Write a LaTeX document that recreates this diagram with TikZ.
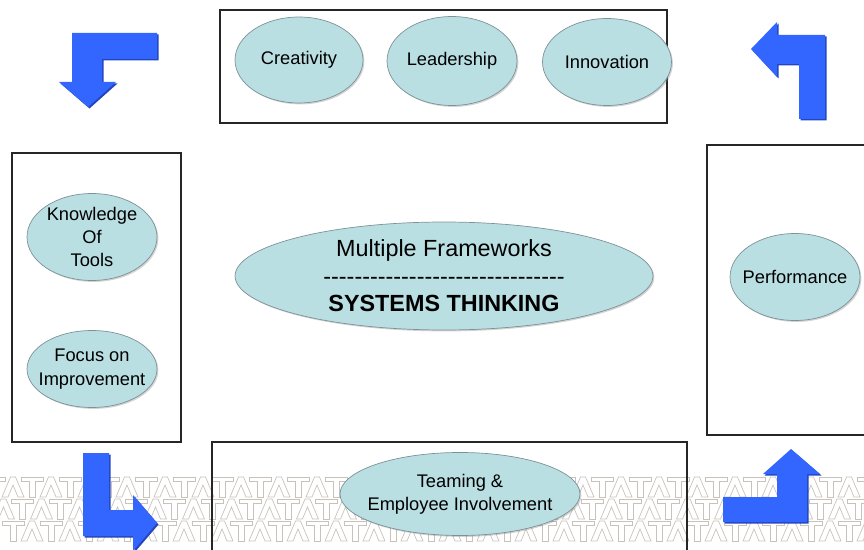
\documentclass[tikz,border=0pt]{standalone}
\usepackage{fontspec}
\setmainfont{Liberation Sans}
\usepackage{tikz}
\usetikzlibrary{shapes.geometric, shadows}

\definecolor{bubblefill}{RGB}{186,223,227}
\definecolor{bubbleedge}{RGB}{125,145,150}
\definecolor{arrowblue}{RGB}{51,102,255}
\definecolor{arrowdark}{RGB}{35,70,190}
\definecolor{logogray}{RGB}{200,194,186}

\tikzset{
  bubble/.style={ellipse, fill=bubblefill, draw=bubbleedge, line width=0.4pt,
    align=center, inner xsep=-12pt, inner ysep=-5pt, font=\fontsize{10.4}{13}\selectfont,
    drop shadow={shadow xshift=0.8pt, shadow yshift=-0.8pt, opacity=0.35}},
  frame/.style={draw=black!85, line width=1.2pt},
  logo/.style={draw=logogray, line width=0.4pt}
}

\newcommand\bentarrow[1]{\fill[arrowdark, shift={(1.5,1.5)}] #1; \fill[arrowblue] #1;}
\newcommand\dashline{\hbox to 4.94cm{\cleaders\hbox{-}\hfill}}

\begin{document}
\begin{tikzpicture}[x=0.02cm, y=-0.02cm]
\useasboundingbox (0,0) rectangle (864,550);

% TATA band along the bottom
\foreach \r in {0,1,2}
  \foreach \k in {0,...,46}{
    \pgfmathsetmacro{\cx}{\k*19+\r*9.5-6}
    \pgfmathsetmacro{\ty}{477+\r*22}
    \pgfmathtruncatemacro{\flip}{mod(\k+\r,2)}
    \ifnum\flip=0
      \draw[logo, shift={(\cx,\ty)}] (-11,0) -- (11,0) -- (11,4) -- (3,4) -- (3,20) -- (-3,20) -- (-3,4) -- (-11,4) -- cycle;
    \else
      \draw[logo, shift={(\cx,\ty)}] (-2.5,0) -- (2.5,0) -- (11,20) -- (5,20) -- (0,8) -- (-5,20) -- (-11,20) -- cycle;
    \fi
  }

% frames
\draw[frame] (220,10) rectangle (667,123);
\draw[frame] (12,153) rectangle (181,442);
\draw[frame] (707,145) rectangle (880,435);
\draw[frame] (212,442) rectangle (687,570);

\node [bubble, minimum width=2.56cm, minimum height=1.72cm] (C1) at (299,60) {Creativity};
\node [bubble, minimum width=2.6cm, minimum height=1.78cm] (C2) at (452,61) {Leadership};
\node [bubble, minimum width=2.58cm, minimum height=1.74cm] (C3) at (607,62) {Innovation};

\node [bubble, minimum width=2.6cm, minimum height=1.74cm] (L1) at (92,237) {Knowledge\\Of\\Tools};
\node [bubble, minimum width=2.6cm, minimum height=1.54cm,
       font=\fontsize{10.4}{14}\selectfont] (L2) at (92,369) {Focus on\\Improvement};

\node [bubble, minimum width=8.36cm, minimum height=2.16cm,
       font=\fontsize{13.3}{15.6}\selectfont] (M) at (444,276)
      {Multiple Frameworks\\\dashline\\\textbf{SYSTEMS THINKING}};

\node [bubble, minimum width=2.6cm, minimum height=1.74cm] (R1) at (795,277) {Performance};

\node [bubble, minimum width=4.8cm, minimum height=1.66cm] (B1) at (460,494)
      {Teaming \&\\Employee Involvement};

% bent arrows
\bentarrow{(72,33) -- (157,33) -- (157,59) -- (102,59) -- (102,82) -- (116,82) -- (88,107) -- (59,82) -- (72,82) -- cycle}
\bentarrow{(825,35) -- (825,119) -- (799,119) -- (799,64) -- (777,64) -- (777,77) -- (751,49) -- (777,22) -- (777,35) -- cycle}
\bentarrow{(83,453) -- (109,453) -- (109,510) -- (133,510) -- (133,495) -- (157,523) -- (133,551) -- (133,536) -- (83,536) -- cycle}
\bentarrow{(791,449) -- (820,474) -- (807,474) -- (807,522) -- (723,522) -- (723,497) -- (777,497) -- (777,474) -- (763,474) -- cycle}

\end{tikzpicture}
\end{document}
